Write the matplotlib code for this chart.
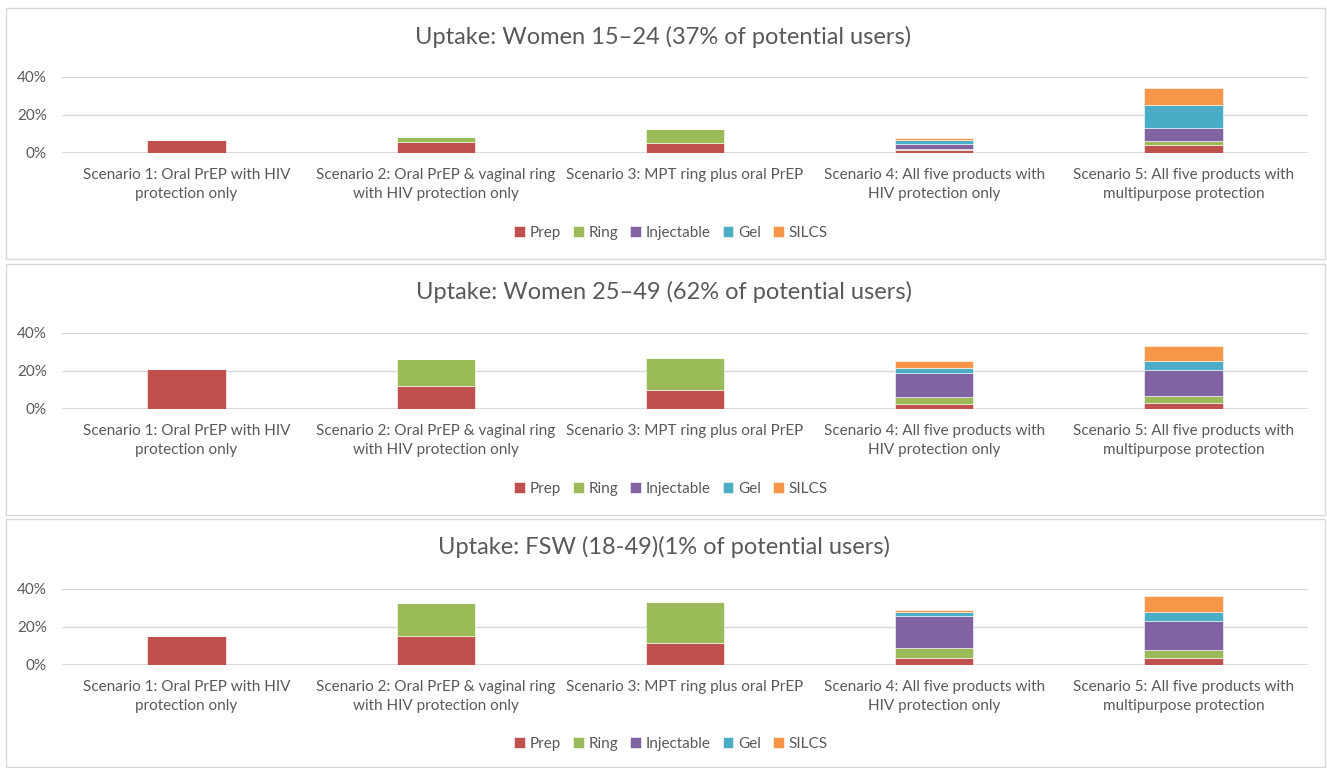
import numpy as np
import matplotlib
matplotlib.use('Agg')
import matplotlib.pyplot as plt
from matplotlib.patches import Rectangle

plt.rcParams['font.family'] = ['Lato', 'DejaVu Sans']

# categories and products
scenarios = ['Scenario 1: Oral PrEP with HIV\nprotection only',
             'Scenario 2: Oral PrEP & vaginal ring\nwith HIV protection only',
             'Scenario 3: MPT ring plus oral PrEP',
             'Scenario 4: All five products with\nHIV protection only',
             'Scenario 5: All five products with\nmultipurpose protection']
products = ['Prep', 'Ring', 'Injectable', 'Gel', 'SILCS']
colors = ['#C0504D', '#9BBB59', '#8064A2', '#4BACC6', '#F79646']

titles = ['Uptake: Women 15\u201324 (37% of potential users)',
          'Uptake: Women 25\u201349 (62% of potential users)',
          'Uptake: FSW (18-49)(1% of potential users)']

# uptake in percent, one list per product, values per scenario
w1524_prep = [6.7, 5.7, 5.2, 1.4, 4.2]
w1524_ring = [0, 2.5, 7.3, 0.7, 1.9]
w1524_inj = [0, 0, 0, 2.6, 6.8]
w1524_gel = [0, 0, 0, 2.1, 12.6]
w1524_silcs = [0, 0, 0, 1.2, 8.8]

w2549_prep = [21.1, 11.9, 10.1, 2.5, 3.0]
w2549_ring = [0, 14.2, 16.9, 3.9, 3.9]
w2549_inj = [0, 0, 0, 12.8, 13.7]
w2549_gel = [0, 0, 0, 2.3, 4.9]
w2549_silcs = [0, 0, 0, 4.0, 7.4]

fsw_prep = [15.5, 15.4, 11.4, 3.9, 3.5]
fsw_ring = [0, 17.3, 21.8, 4.9, 4.4]
fsw_inj = [0, 0, 0, 16.8, 15.3]
fsw_gel = [0, 0, 0, 2.1, 4.6]
fsw_silcs = [0, 0, 0, 1.4, 8.4]

groups = [
    [w1524_prep, w1524_ring, w1524_inj, w1524_gel, w1524_silcs],
    [w2549_prep, w2549_ring, w2549_inj, w2549_gel, w2549_silcs],
    [fsw_prep, fsw_ring, fsw_inj, fsw_gel, fsw_silcs],
]

W, H = 1327, 768
fig = plt.figure(figsize=(W / 100, H / 100), dpi=100)
text_col = '#595959'
grid_col = '#d9d9d9'

# pixel layout of each panel: box top, box bottom, title y, baseline y, legend y
panels = [(8, 259, 37, 153, 233),
          (264, 515, 292, 409, 489),
          (519, 767, 547, 665, 744)]

x = np.arange(len(scenarios))
for (top, bot, ty, base, ly), title, series in zip(panels, titles, groups):
    fig.patches.append(Rectangle((6 / W, 1 - bot / H), (1325 - 6) / W, (bot - top) / H,
                                 transform=fig.transFigure, fill=False,
                                 edgecolor=grid_col, linewidth=1))
    fig.text(0.5, 1 - ty / H, title, ha='center', va='center', fontsize=17, color=text_col)

    ax = fig.add_axes([62 / W, 1 - base / H, (1308 - 62) / W, 76 / H])
    bottom = np.zeros(len(scenarios))
    handles = []
    for vals, name, c in zip(series, products, colors):
        b = ax.bar(x, vals, 0.315, bottom=bottom, color=c, label=name,
                   edgecolor='#ffffff', linewidth=0.4)
        bottom += np.array(vals)
        handles.append(b)

    ax.set_xlim(-0.5, len(scenarios) - 0.5)
    ax.set_ylim(0, 40)
    ax.set_yticks([0, 20, 40])
    ax.set_yticklabels(['0%', '20%', '40%'])
    ax.set_xticks(x)
    ax.set_xticklabels(scenarios, linespacing=1.45)
    ax.tick_params(axis='both', length=0, labelsize=11, colors=text_col)
    ax.tick_params(axis='y', pad=11)
    ax.tick_params(axis='x', pad=11)
    for s in ax.spines.values():
        s.set_visible(False)
    ax.grid(axis='y', color=grid_col, linewidth=1)
    ax.set_axisbelow(True)
    ax.axhline(0, color=grid_col, linewidth=1.2, zorder=0.5)

    fig.legend(handles, products, loc='center', bbox_to_anchor=(671 / W, 1 - ly / H),
               ncol=5, frameon=False, fontsize=11, handlelength=0.7, handleheight=0.7,
               handletextpad=0.3, columnspacing=0.8, labelcolor=text_col)

fig.savefig('out.png', dpi=100, facecolor='white')
